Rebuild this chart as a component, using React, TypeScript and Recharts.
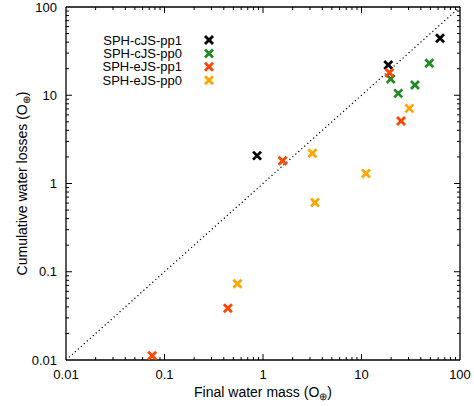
import React from 'react'
import {
  ScatterChart, Scatter, XAxis, YAxis, ReferenceLine, Label,
} from 'recharts'

// final water mass (x) vs cumulative water losses (y), in ocean masses
const cJSpp1X = [0.87, 18.7, 62.7]
const cJSpp1Y = [2.07, 22.0, 44.2]
const cJSpp0X = [19.8, 23.6, 34.9, 48.8]
const cJSpp0Y = [15.3, 10.5, 13.1, 23.0]
const eJSpp1X = [0.075, 0.44, 1.58, 19.2, 25.2]
const eJSpp1Y = [0.0112, 0.0385, 1.81, 18.0, 5.1]
const eJSpp0X = [0.55, 3.17, 3.37, 11.1, 30.6]
const eJSpp0Y = [0.073, 2.2, 0.61, 1.3, 7.1]

const seriesNames = ['SPH-cJS-pp1', 'SPH-cJS-pp0', 'SPH-eJS-pp1', 'SPH-eJS-pp0']
const seriesColors = ['#000000', '#228b22', '#ff4500', '#ffa500']

const majorTicks = [0.01, 0.1, 1, 10, 100]
const majorLabels = ['0.01', '0.1', '1', '10', '100']
const minorSteps = [2, 3, 4, 5, 6, 7, 8, 9]

const allTicks = [
  ...majorTicks,
  ...majorTicks.slice(0, -1).flatMap((d) => minorSteps.map((m) => d * m)),
].sort((a, b) => a - b)

const LO = 0.01
const HI = 100
const FONT = '"Liberation Sans", Arial, Helvetica, sans-serif'

const innerTicks = allTicks.filter((t) => t > LO && t < HI)

const toPoints = (xs: number[], ys: number[]) => xs.map((x, i) => ({ x, y: ys[i] }))
const series = [
  toPoints(cJSpp1X, cJSpp1Y),
  toPoints(cJSpp0X, cJSpp0Y),
  toPoints(eJSpp1X, eJSpp1Y),
  toPoints(eJSpp0X, eJSpp0Y),
]

function Cross({ cx, cy, color }: { cx: number; cy: number; color: string }) {
  const r = 4
  return (
    <g stroke={color} strokeWidth={2.8}>
      <line x1={cx - r} y1={cy - r} x2={cx + r} y2={cy + r} />
      <line x1={cx - r} y1={cy + r} x2={cx + r} y2={cy - r} />
    </g>
  )
}

// a reference line through a tick value, drawn only as two short inward marks at the frame
function TickPair(props: any) {
  const x1 = Number(props.x1)
  const x2 = Number(props.x2)
  const y1 = Number(props.y1)
  const y2 = Number(props.y2)
  const len = props.major ? 6 : 3
  if (Math.abs(x1 - x2) < 0.01) {
    const top = Math.min(y1, y2)
    const bottom = Math.max(y1, y2)
    return (
      <path d={`M${x1},${bottom}V${bottom - len}M${x1},${top}V${top + len}`} stroke="#000" strokeWidth={1} fill="none" />
    )
  }
  const left = Math.min(x1, x2)
  const right = Math.max(x1, x2)
  return (
    <path d={`M${left},${y1}H${left + len}M${right},${y1}H${right - len}`} stroke="#000" strokeWidth={1} fill="none" />
  )
}

function makeLabel(side: 'bottom' | 'left') {
  return (props: any) => {
    const idx = majorTicks.indexOf(props.payload.value)
    if (idx < 0) return <g />
    const x = Number(props.x)
    const y = Number(props.y)
    if (side === 'bottom') {
      return (
        <text x={x} y={y + 19} textAnchor="middle" fontSize={13} fontFamily={FONT} fill="#000">
          {majorLabels[idx]}
        </text>
      )
    }
    return (
      <text x={x - 9} y={y + 4.5} textAnchor="end" fontSize={13} fontFamily={FONT} fill="#000">
        {majorLabels[idx]}
      </text>
    )
  }
}

function XTitle({ viewBox }: any) {
  const cx = viewBox.x + viewBox.width / 2
  return (
    <text x={cx} y={viewBox.y + 37} textAnchor="middle" fontSize={14} fontFamily={FONT} fill="#000">
      Final water mass (O<tspan fontSize={10} dy={3}>⊕</tspan><tspan dy={-3}>)</tspan>
    </text>
  )
}

function YTitle({ viewBox }: any) {
  const cy = viewBox.y + viewBox.height / 2
  const x = 27
  return (
    <text x={x} y={cy} transform={`rotate(-90, ${x}, ${cy})`} textAnchor="middle" fontSize={14} fontFamily={FONT} fill="#000">
      Cumulative water losses (O<tspan fontSize={10} dy={3}>⊕</tspan><tspan dy={-3}>)</tspan>
    </text>
  )
}

function LegendBox() {
  return (
    <svg width={474} height={406} style={{ position: 'absolute', left: 0, top: 0, pointerEvents: 'none' }}>
      {seriesNames.map((name, i) => {
        const cy = 40 + i * 13.4
        return (
          <g key={name}>
            <text x={182} y={cy + 4.5} textAnchor="end" fontSize={13} fontFamily={FONT} fill="#000">{name}</text>
            <Cross cx={209} cy={cy} color={seriesColors[i]} />
          </g>
        )
      })}
    </svg>
  )
}

export default function App() {
  const axisCommon = {
    type: 'number' as const,
    scale: 'log' as const,
    domain: [LO, HI],
    allowDataOverflow: true,
    ticks: allTicks,
    interval: 0,
    tickSize: 0,
    tickMargin: 0,
    tickLine: false,
    axisLine: { stroke: '#000', strokeWidth: 1.3 },
  }
  return (
    <div style={{ position: 'absolute', left: 0, top: 0, width: 474, height: 406, background: '#fff' }}>
      <ScatterChart width={474} height={406} margin={{ top: 6, right: 13, bottom: 0, left: 0 }}>
        <XAxis {...axisCommon} dataKey="x" xAxisId="bottom" orientation="bottom" height={46} tick={makeLabel('bottom')}>
          <Label content={XTitle} />
        </XAxis>
        <XAxis {...axisCommon} dataKey="x" xAxisId="top" orientation="top" height={1} tick={false} />
        <YAxis {...axisCommon} dataKey="y" yAxisId="left" orientation="left" width={66} tick={makeLabel('left')}>
          <Label content={YTitle} />
        </YAxis>
        <YAxis {...axisCommon} dataKey="y" yAxisId="right" orientation="right" width={1} tick={false} />
        {innerTicks.map((t) => (
          <ReferenceLine
            key={`vx${t}`}
            xAxisId="bottom"
            yAxisId="left"
            x={t}
            stroke="#000"
            shape={(p: any) => <TickPair {...p} major={majorTicks.includes(t)} />}
          />
        ))}
        {innerTicks.map((t) => (
          <ReferenceLine
            key={`hy${t}`}
            xAxisId="bottom"
            yAxisId="left"
            y={t}
            stroke="#000"
            shape={(p: any) => <TickPair {...p} major={majorTicks.includes(t)} />}
          />
        ))}
        <ReferenceLine
          xAxisId="bottom"
          yAxisId="left"
          segment={[{ x: LO, y: LO }, { x: HI, y: HI }]}
          stroke="#000"
          strokeDasharray="1.2 2.8"
          strokeWidth={1.2}
        />
        {series.map((pts, i) => (
          <Scatter
            key={seriesNames[i]}
            name={seriesNames[i]}
            data={pts}
            xAxisId="bottom"
            yAxisId="left"
            isAnimationActive={false}
            shape={(p: any) => <Cross cx={p.cx} cy={p.cy} color={seriesColors[i]} />}
          />
        ))}
        <Scatter data={[]} xAxisId="top" yAxisId="right" isAnimationActive={false} />
      </ScatterChart>
      <LegendBox />
    </div>
  )
}
